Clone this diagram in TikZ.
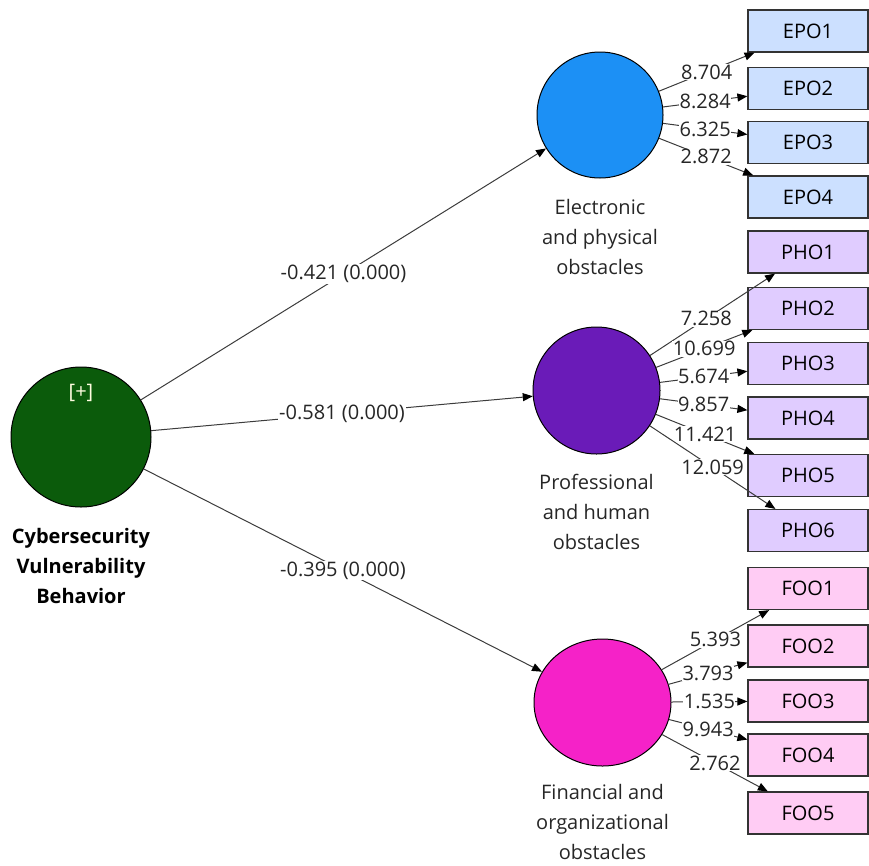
\documentclass[tikz,border=0pt]{standalone}
\usepackage{fontspec}
\setmainfont{Open Sans}
\usetikzlibrary{arrows.meta,shapes.geometric}
\definecolor{cvbc}{RGB}{11,91,11}
\definecolor{epoc}{RGB}{28,144,245}
\definecolor{phoc}{RGB}{106,27,184}
\definecolor{fooc}{RGB}{245,34,200}
\definecolor{epob}{RGB}{204,224,255}
\definecolor{phob}{RGB}{224,204,255}
\definecolor{foob}{RGB}{255,204,244}
\definecolor{linec}{RGB}{60,60,60}
\begin{document}
\begin{tikzpicture}[x=1pt,y=-1pt,
  font=\fontsize{20}{30}\selectfont,
  lv/.style={circle,draw=black,line width=1pt,inner sep=0pt},
  ind/.style={draw=black!80,line width=1.2pt,minimum width=120,minimum height=42,inner sep=0pt},
  conn/.style={draw=linec,line width=1pt,-{Triangle[length=10pt,width=8pt,color=black]}},
  plab/.style={fill=white,inner sep=1pt,text=black!85},
  mlab/.style={fill=white,inner sep=0.5pt,text=black!85},
  captxt/.style={align=center,text=black!85}]
\useasboundingbox (0,0) rectangle (869,865);

% latent variables
\node[lv,fill=cvbc,minimum size=140] (cvb) at (81,437) {};
\node[text=white!88!yellow] (plus) at (81,393) {[+]};
\node[lv,fill=epoc,minimum size=126] (epo) at (600,115) {};
\node[lv,fill=phoc,minimum size=127] (pho) at (596.5,390.5) {};
\node[ellipse,draw=black,line width=1pt,inner sep=0pt,fill=fooc,minimum width=137,minimum height=127] (foo) at (602.5,702.5) {};

% captions
\node[captxt,font=\fontsize{20}{30}\selectfont\bfseries,text=black] (cvbt) at (81,566) {Cybersecurity\\Vulnerability\\Behavior};
\node[captxt] (epot) at (600,237) {Electronic\\and physical\\obstacles};
\node[captxt] (phot) at (596.5,512) {Professional\\and human\\obstacles};
\node[captxt] (foot) at (602.5,822) {Financial and\\organizational\\obstacles};

% indicators
\node[ind,fill=epob] (epo1) at (808,31) {EPO1};
\node[ind,fill=epob] (epo2) at (808,88.5) {EPO2};
\node[ind,fill=epob] (epo3) at (808,142.5) {EPO3};
\node[ind,fill=epob] (epo4) at (808,197) {EPO4};

\node[ind,fill=phob] (pho1) at (808,252) {PHO1};
\node[ind,fill=phob] (pho2) at (808,308.5) {PHO2};
\node[ind,fill=phob] (pho3) at (808,363.5) {PHO3};
\node[ind,fill=phob] (pho4) at (808,418) {PHO4};
\node[ind,fill=phob] (pho5) at (808,475.5) {PHO5};
\node[ind,fill=phob] (pho6) at (808,530.5) {PHO6};

\node[ind,fill=foob] (foo1) at (808,588.5) {FOO1};
\node[ind,fill=foob] (foo2) at (808,646) {FOO2};
\node[ind,fill=foob] (foo3) at (808,701) {FOO3};
\node[ind,fill=foob] (foo4) at (808,755) {FOO4};
\node[ind,fill=foob] (foo5) at (808,813) {FOO5};

% structural paths
\draw[conn] (cvb) -- node[plab] {-0.421 (0.000)} (epo);
\draw[conn] (cvb) -- node[plab] {-0.581 (0.000)} (pho);
\draw[conn] (cvb) -- node[plab] {-0.395 (0.000)} (foo);

% outer loadings
\draw[conn] (epo) -- node[mlab] {8.704} (epo1);
\draw[conn] (epo) -- node[mlab] {8.284} (epo2);
\draw[conn] (epo) -- node[mlab] {6.325} (epo3);
\draw[conn] (epo) -- node[mlab] {2.872} (epo4);

\draw[conn] (pho) -- node[mlab,pos=0.45] {7.258} (pho1);
\draw[conn] (pho) -- node[mlab] {10.699} (pho2);
\draw[conn] (pho) -- node[mlab] {5.674} (pho3);
\draw[conn] (pho) -- node[mlab] {9.857} (pho4);
\draw[conn] (pho) -- node[mlab] {11.421} (pho5);
\draw[conn] (pho) -- node[mlab] {12.059} (pho6);

\draw[conn] (foo) -- node[mlab] {5.393} (foo1);
\draw[conn] (foo) -- node[mlab] {3.793} (foo2);
\draw[conn] (foo) -- node[mlab] {1.535} (foo3);
\draw[conn] (foo) -- node[mlab] {9.943} (foo4);
\draw[conn] (foo) -- node[mlab] {2.762} (foo5);
\end{tikzpicture}
\end{document}
